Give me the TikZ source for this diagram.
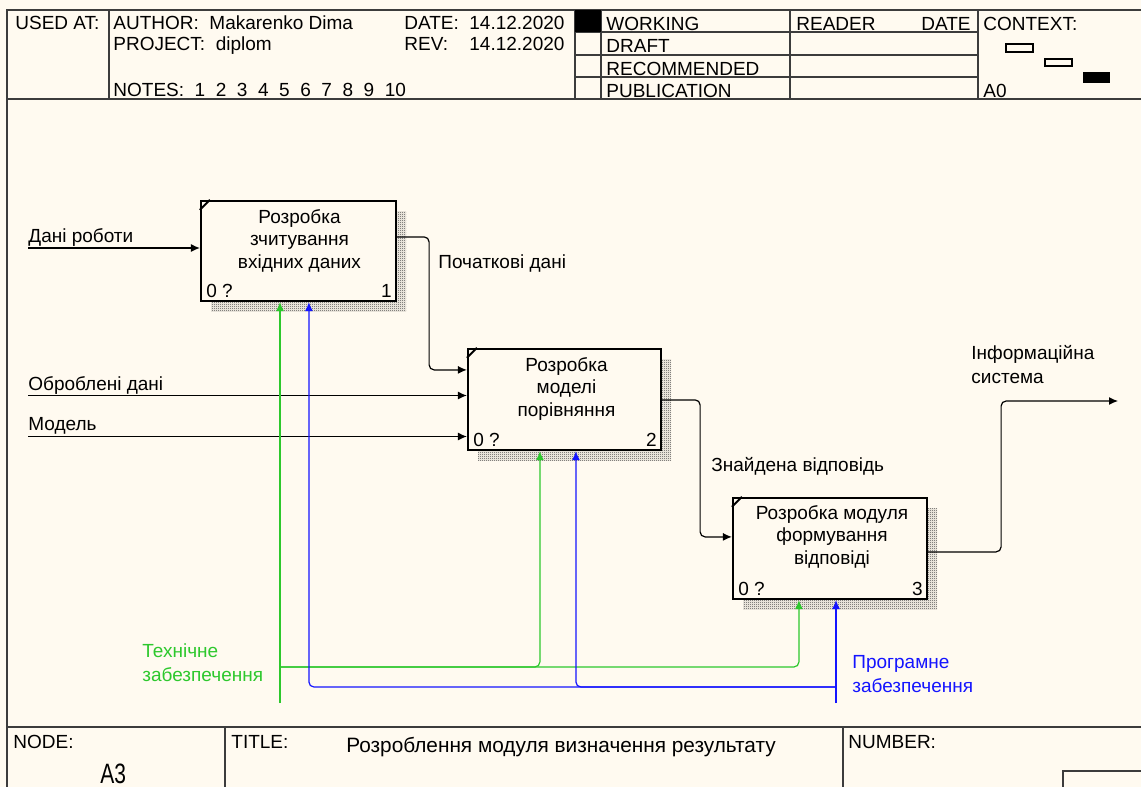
\documentclass[tikz,border=0pt]{standalone}
\usepackage{fontspec}
\setmainfont{Liberation Sans}
\newfontfamily\narrowfont[FakeStretch=0.75]{Liberation Sans}
\usetikzlibrary{calc}
\usetikzlibrary{arrows.meta}
\usetikzlibrary{patterns}
\usetikzlibrary{shadows}
\definecolor{paper}{RGB}{255,250,240}
\definecolor{mechgreen}{RGB}{45,200,45}
\definecolor{mechblue}{RGB}{20,20,255}
\definecolor{framegray}{RGB}{60,60,60}
\pgfdeclarepatternformonly{finecheck}{\pgfpointorigin}{\pgfpoint{1pt}{1pt}}{\pgfpoint{1pt}{1pt}}{%
	\pgfpathrectangle{\pgfpointorigin}{\pgfpoint{0.5pt}{0.5pt}}%
	\pgfpathrectangle{\pgfpoint{0.5pt}{0.5pt}}{\pgfpoint{0.5pt}{0.5pt}}%
	\pgfusepath{fill}%
}
\tikzset{
	actbox/.style={draw=black, line width=1.1pt, fill=paper, inner sep=0pt,
		general shadow={shadow xshift=5pt, shadow yshift=-5pt, pattern=finecheck, pattern color=black!75}},
	boxtxt/.style={align=center, inner sep=0pt, font=\fontsize{9.5}{11.25}\selectfont},
	lbl/.style={inner sep=0pt, align=left, anchor=base west, font=\fontsize{9.5}{11.8}\selectfont},
	hdr/.style={inner sep=0pt, anchor=base west, font=\fontsize{9.5}{11}\selectfont},
	arr/.style={line width=0.6pt, -{Latex[length=4.5pt,width=4pt]}},
	link/.style={line width=0.6pt, rounded corners=2.5pt},
	cell/.style={draw=framegray, line width=0.9pt},
}

\begin{document}
\begin{tikzpicture}[x=0.5pt,y=-0.5pt]
	\path[use as bounding box,fill=paper] (0,0) rectangle (1141,787);
	% frame
	\draw[cell] (7,787) -- (7,10) -- (1141,10);
	\draw[cell] (7,99) -- (1141,99);
	\draw[cell] (7,727) -- (1141,727);
	\foreach \x in {109,575,601,790,978}
	\draw[cell] (\x,10) -- (\x,99);
	\foreach \y in {32,55,77}
	\draw[cell] (575,\y) -- (978,\y);
	\fill[black] (575,10) rectangle (601,32);
	\foreach \x in {225,843}
	\draw[cell] (\x,727) -- (\x,787);
	\draw[cell] (1141,771) -- (1063,771) -- (1063,787);
	% context
	\draw[line width=0.6pt] (1006,44) rectangle (1033,52);
	\draw[line width=0.6pt] (1045,59) rectangle (1072,66);
	\fill[black] (1083,72) rectangle (1110,83);
	% header
	\node[hdr] (usedat) at (15,29) {USED AT:};
	\node[hdr] (author) at (113,29) {AUTHOR:~~Makarenko Dima};
	\node[hdr] (project) at (113,50) {PROJECT:~~diplom};
	\node[hdr] (notes) at (113,96) {NOTES:~~1~~2~~3~~4~~5~~6~~7~~8~~9~~10};
	\node[hdr] (date) at (404,29) {DATE:};
	\node[hdr] (dateval) at (469,29) {14.12.2020};
	\node[hdr] (rev) at (404,50) {REV:};
	\node[hdr] (revval) at (469,50) {14.12.2020};
	\node[hdr] (working) at (606,31) {WORKING};
	\node[hdr] (draft) at (606,53) {DRAFT};
	\node[hdr] (recommended) at (606,75) {RECOMMENDED};
	\node[hdr] (publication) at (606,97) {PUBLICATION};
	\node[hdr] (reader) at (796,31) {READER};
	\node[hdr,anchor=base east] (readdate) at (971,31) {DATE};
	\node[hdr] (context) at (983,31) {CONTEXT:};
	\node[hdr] (ctxnode) at (983,97) {A0};
	% footer
	\node[hdr] (nodelbl) at (13,748) {NODE:};
	\node[hdr] (titlelbl) at (231,748) {TITLE:};
	\node[hdr] (numberlbl) at (848,748) {NUMBER:};
	\node[hdr,font=\fontsize{10.4}{12}\selectfont] (title) at (346,752.5) {Розроблення модуля визначення результату};
	\node[hdr,font=\narrowfont\fontsize{14}{16}\selectfont] (nodeval) at (100,783) {A3};
	% activity boxes
	\node[actbox, minimum width=97.5pt, minimum height=50pt] (a1) at (298.5,251) {};
	\node[actbox, minimum width=96.5pt, minimum height=50.5pt] (a2) at (564.5,399.5) {};
	\node[actbox, minimum width=97pt, minimum height=50.5pt] (a3) at (830,548.5) {};
	\node[boxtxt, anchor=north] (t1) at ($(a1.north)+(1,9)$) {Розробка\\зчитування\\вхідних даних};
	\node[boxtxt, anchor=north] (t2) at ($(a2.north)+(2,9)$) {Розробка\\моделі\\порівняння};
	\node[boxtxt, anchor=north] (t3) at ($(a3.north)+(2,8)$) {Розробка модуля\\формування\\відповіді};
	\foreach \b/\n in {a1/1,a2/2,a3/3}{
		\draw[line width=1pt] ($(\b.north west)+(0,10)$) -- ($(\b.north west)+(10,0)$);
		\node[hdr] (\b q) at ($(\b.south west)+(6,-5)$) {0 ?};
		\node[hdr, anchor=base east] (\b n) at ($(\b.south east)+(-5,-5)$) {\n};
	}
	% inputs and outputs
	\coordinate (in1) at (28,248);
	\coordinate (in2) at (28,395.5);
	\coordinate (in3) at (28,436.5);
	\coordinate (out) at (1118,401);
	\draw[arr] (in1) -- (in1 -| a1.west);
	\draw[arr] (in2) -- (in2 -| a2.west);
	\draw[arr] (in3) -- (in3 -| a2.west);
	\draw[arr,link] ($(a1.north east)+(0,37)$) -- ++(32,0) |- ($(a2.north west)+(0,22)$);
	\draw[arr,link] ($(a2.north east)+(0,52)$) -- ++(38,0) |- ($(a3.north west)+(0,40)$);
	\draw[arr,link] ($(a3.north east)+(0,55)$) -- ++(73,0) |- (out);
	% mechanisms
	\coordinate (tech) at (280,703);
	\coordinate (techj) at (280,667);
	\coordinate (soft) at (836,703);
	\coordinate (softj) at (836,687);
	\draw[arr,mechgreen] (tech) -- (tech |- a1.south);
	\draw[arr,link,mechgreen] (techj) -| ($(a2.south west)+(73,0)$);
	\draw[arr,link,mechgreen] (techj) -| ($(a3.south west)+(67,0)$);
	\draw[arr,mechblue] (soft) -- (soft |- a3.south);
	\draw[arr,link,mechblue] (softj) -| ($(a1.south west)+(109,0)$);
	\draw[arr,link,mechblue] (softj) -| ($(a2.south west)+(109,0)$);
	% labels (base = last line)
	\node[lbl] (l1) at (28,242) {Дані роботи};
	\node[lbl] (l2) at (28,390) {Оброблені дані};
	\node[lbl] (l3) at (28,430) {Модель};
	\node[lbl] (l4) at (438,268) {Початкові дані};
	\node[lbl] (l5) at (711,471.5) {Знайдена відповідь};
	\node[lbl] (l6) at (971,383) {Інформаційна\\система};
	\node[lbl,mechgreen] (l7) at (142,681) {Технічне\\забезпечення};
	\node[lbl,mechblue] (l8) at (852,692) {Програмне\\забезпечення};
\end{tikzpicture}
\end{document}
